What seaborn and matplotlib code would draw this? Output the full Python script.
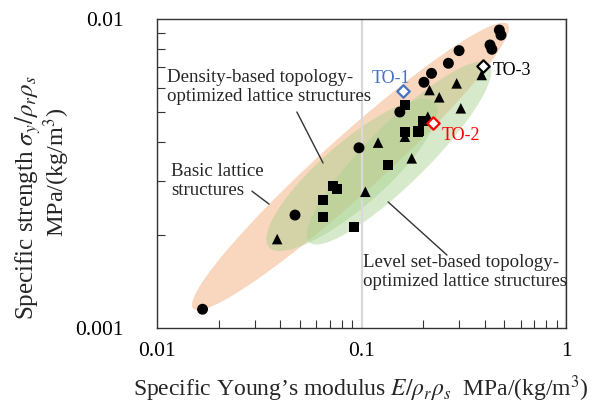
import numpy as np
import pandas as pd
import matplotlib
matplotlib.use("Agg")
import matplotlib.pyplot as plt
import seaborn as sns
from matplotlib.patches import Polygon
from matplotlib.ticker import NullFormatter, FixedLocator

# ---------------- data ----------------
circle_x = [0.0167, 0.0473, 0.0972, 0.154, 0.202, 0.220, 0.266, 0.300, 0.425, 0.434, 0.472, 0.481]
circle_y = [0.00115, 0.00232, 0.00383, 0.00500, 0.00624, 0.00667, 0.00719, 0.00790, 0.00824, 0.00798, 0.00921, 0.00887]

square_x = [0.0922, 0.0650, 0.0645, 0.0728, 0.0762, 0.135, 0.163, 0.188, 0.190, 0.201, 0.163]
square_y = [0.00213, 0.00229, 0.00260, 0.00288, 0.00281, 0.00337, 0.00432, 0.00430, 0.00435, 0.00466, 0.00527]

triangle_x = [0.0387, 0.1044, 0.1205, 0.176, 0.163, 0.211, 0.215, 0.240, 0.292, 0.306, 0.387]
triangle_y = [0.00194, 0.00276, 0.00398, 0.00354, 0.00416, 0.00483, 0.00589, 0.00558, 0.00619, 0.00514, 0.00659]

to_labels = ["TO-1", "TO-2", "TO-3"]
to_x = [0.160, 0.2245, 0.392]
to_y = [0.00586, 0.00460, 0.00706]
to_colors = ["#4472C4", "#FF0000", "#000000"]

x_ticks = [0.01, 0.1, 1]
x_ticklabels = ["0.01", "0.1", "1"]
y_ticks = [0.001, 0.01]
y_ticklabels = ["0.001", "0.01"]

df = pd.DataFrame({
    "E": circle_x + square_x + triangle_x,
    "S": circle_y + square_y + triangle_y,
    "group": ["circle"] * len(circle_x) + ["square"] * len(square_x) + ["triangle"] * len(triangle_x),
})
df_to = pd.DataFrame({"E": to_x, "S": to_y, "label": to_labels, "color": to_colors})

# ---------------- style ----------------
sns.set_style("white")
plt.rcParams["font.family"] = ["Liberation Serif", "DejaVu Serif"]
plt.rcParams["mathtext.fontset"] = "stix"

W_in, H_in = 5.98, 4.05
fig = plt.figure(figsize=(W_in, H_in), dpi=100)
ax_left, ax_bottom, ax_w, ax_h = 157 / 598, 1 - 328 / 405, 409 / 598, 309 / 405
ax = fig.add_axes([ax_left, ax_bottom, ax_w, ax_h])
ax.set_xscale("log")
ax.set_yscale("log")
ax.set_xlim(0.01, 1)
ax.set_ylim(0.001, 0.01)

Wpx, Hpx = ax_w * W_in * 100, ax_h * H_in * 100

def add_ellipse(cx, cy, a, b, ang, color, alpha):
    t = np.linspace(0, 2 * np.pi, 300)
    th = np.deg2rad(ang)
    ex = a * np.cos(t)
    ey = b * np.sin(t)
    px = cx + ex * np.cos(th) - ey * np.sin(th)
    py = cy + ex * np.sin(th) + ey * np.cos(th)
    poly = Polygon(np.column_stack([px / Wpx, py / Hpx]), closed=True,
                   transform=ax.transAxes, facecolor=color, edgecolor="none",
                   alpha=alpha, zorder=1)
    ax.add_patch(poly)

# ellipses (axes pixel units)
add_ellipse(193.5, 161.5, 212, 29, 42.1, "#F4B183", 0.52)
add_ellipse(195, 153, 110, 32, 41, "#A9D18E", 0.46)
add_ellipse(242, 175, 126.5, 30, 44.7, "#A9D18E", 0.46)

ax.set_axisbelow("line")
ax.grid(axis="x", which="major", color="#D9D9D9", linewidth=1.6)
ax.grid(axis="y", which="both", visible=False)

sns.scatterplot(data=df, x="E", y="S", style="group", size="group",
                markers={"circle": "o", "square": "s", "triangle": "^"},
                sizes={"circle": 62, "square": 52, "triangle": 58},
                color="black", linewidth=0, legend=False, ax=ax, zorder=3)

for _, r in df_to.iterrows():
    sns.scatterplot(x=[r["E"]], y=[r["S"]], marker="D", s=40, facecolor="white",
                    edgecolor=r["color"], linewidth=1.6, ax=ax, zorder=4, legend=False)

# labels of TO points
to_text_pos = [(0.526, 0.793), (0.697, 0.608), (0.8215, 0.819)]
for (tx, ty), lab, col in zip(to_text_pos, to_labels, to_colors):
    ax.text(tx, ty, lab, transform=ax.transAxes, color=col, fontsize=13,
            ha="left", va="baseline", zorder=5)

# annotations
ax.text(0.024, 0.838, "Density-based topology-\noptimized lattice structures",
        transform=ax.transAxes, fontsize=13.6, ha="left", va="top", linespacing=1.12, zorder=5)
ax.text(0.034, 0.534, "Basic lattice\nstructures",
        transform=ax.transAxes, fontsize=13.6, ha="left", va="top", linespacing=1.12, zorder=5)
ax.text(0.504, 0.239, "Level set-based topology-\noptimized lattice structures",
        transform=ax.transAxes, fontsize=13.6, ha="left", va="top", linespacing=1.12, zorder=5)

for (x0, y0), (x1, y1) in [((0.342, 0.699), (0.406, 0.534)),
                           ((0.232, 0.443), (0.274, 0.401)),
                           ((0.565, 0.408), (0.709, 0.236))]:
    ax.plot([x0, x1], [y0, y1], transform=ax.transAxes, color="#333333", lw=1.0, zorder=5)

# ticks
ax.xaxis.set_major_locator(FixedLocator(x_ticks))
ax.set_xticklabels(x_ticklabels)
ax.yaxis.set_major_locator(FixedLocator(y_ticks))
ax.set_yticklabels(y_ticklabels)
ax.tick_params(which="major", length=0, labelsize=15.5, colors="black")
ax.tick_params(axis="x", which="major", pad=10)
ax.tick_params(axis="y", which="major", pad=24)
ax.minorticks_on()
ax.tick_params(which="minor", direction="in", length=6, width=0.8, color="#333333",
               top=False, right=False, bottom=True, left=True)
ax.xaxis.set_minor_formatter(NullFormatter())
ax.yaxis.set_minor_formatter(NullFormatter())

for sp in ax.spines.values():
    sp.set_color("#333333")
    sp.set_linewidth(1.0)
    sp.set_visible(True)

ax.set_xlabel("")
ax.set_ylabel("")

fig.text(361 / 598, 1 - 389 / 405,
         r"Specific Young’s modulus $E/\rho_r\rho_s$  MPa/(kg/m$^3$)",
         ha="center", va="center", fontsize=17)
fig.text(28 / 598, 1 - 198 / 405, r"Specific strength $\sigma_y/\rho_r\rho_s$",
         ha="center", va="center", rotation=90, fontsize=18)
fig.text(57 / 598, 1 - 172 / 405, r"MPa/(kg/m$^3$)",
         ha="center", va="center", rotation=90, fontsize=17.5)

fig.savefig("out.png", dpi=100)
